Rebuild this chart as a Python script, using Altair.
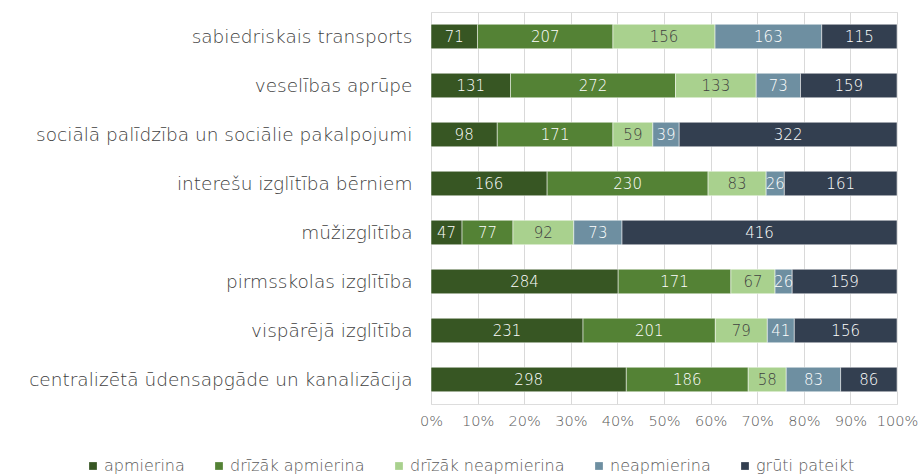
import altair as alt
import pandas as pd

categories = [
    "sabiedriskais transports",
    "veselības aprūpe",
    "sociālā palīdzība un sociālie pakalpojumi",
    "interešu izglītība bērniem",
    "mūžizglītība",
    "pirmsskolas izglītība",
    "vispārējā izglītība",
    "centralizētā ūdensapgāde un kanalizācija",
]
series = ["apmierina", "drīzāk apmierina", "drīzāk neapmierina", "neapmierina", "grūti pateikt"]
colors = ["#375623", "#548235", "#A9D18E", "#6E8FA1", "#333F50"]

apmierina = [71, 131, 98, 166, 47, 284, 231, 298]
drizak_apmierina = [207, 272, 171, 230, 77, 171, 201, 186]
drizak_neapmierina = [156, 133, 59, 83, 92, 67, 79, 58]
neapmierina = [163, 73, 39, 26, 73, 26, 41, 83]
gruti_pateikt = [115, 159, 322, 161, 416, 159, 156, 86]

all_vals = [apmierina, drizak_apmierina, drizak_neapmierina, neapmierina, gruti_pateikt]
rows = []
for si, (s, vals) in enumerate(zip(series, all_vals)):
    for c, v in zip(categories, vals):
        rows.append({"cat": c, "series": s, "sidx": si, "value": v})
df = pd.DataFrame(rows)

FONT = "DejaVu Sans"

base = alt.Chart(df).transform_joinaggregate(
    total="sum(value)", groupby=["cat"]
).transform_window(
    cum="sum(value)", sort=[alt.SortField("sidx")], groupby=["cat"], frame=[None, 0]
).transform_calculate(
    p1="datum.cum / datum.total",
    p0="(datum.cum - datum.value) / datum.total",
    mid="(2*datum.cum - datum.value) / (2*datum.total)",
)

y_enc = alt.Y(
    "cat:N", sort=categories, title=None,
    scale=alt.Scale(paddingInner=0.5, paddingOuter=0.25),
    axis=alt.Axis(domain=False, ticks=False, grid=False, labelFont=FONT,
                  labelFontSize=18.5, labelColor="#404040", labelPadding=19,
                  labelFontWeight=300, labelLimit=500),
)

bars = base.mark_bar(stroke="white", strokeWidth=0.5).encode(
    x=alt.X("p0:Q", scale=alt.Scale(domain=[0, 1], nice=False), title=None,
            axis=alt.Axis(format=".0%", values=[i / 10 for i in range(11)],
                          domain=False, ticks=False, grid=True,
                          gridColor="#d9d9d9", gridWidth=1, labelOverlap=False,
                          labelFlush=False,
                          labelFont=FONT, labelFontSize=14.5, labelColor="#595959",
                          labelPadding=10, labelFontWeight=300)),
    x2="p1:Q",
    y=y_enc,
    color=alt.Color("series:N", scale=alt.Scale(domain=series, range=colors),
                    sort=series, title=None,
                    legend=alt.Legend(orient="none", legendX=-346, legendY=446,
                                      direction="horizontal", columns=5,
                                      symbolType="square", symbolSize=60,
                                      symbolStrokeWidth=0,
                                      labelFont=FONT, labelFontSize=16,
                                      labelColor="#595959", labelFontWeight=300,
                                      columnPadding=26, labelOffset=3,
                                      labelLimit=300)),
    order=alt.Order("sidx:Q"),
)

labels = base.mark_text(font=FONT, fontSize=15, fontWeight=300, baseline="middle").encode(
    x="mid:Q",
    y=alt.Y("cat:N", sort=categories),
    text="value:Q",
    color=alt.condition(alt.datum.sidx == 2, alt.value("#404040"), alt.value("white")),
)

chart = alt.layer(bars, labels).properties(
    width=466, height=392,
    padding={"left": 431, "top": 12, "right": 22, "bottom": 70},
    autosize=alt.AutoSizeParams(type="none"),
).configure_view(stroke=None).configure(background="white")

chart.save("out.html", embed_options={"renderer": "svg", "actions": False})
